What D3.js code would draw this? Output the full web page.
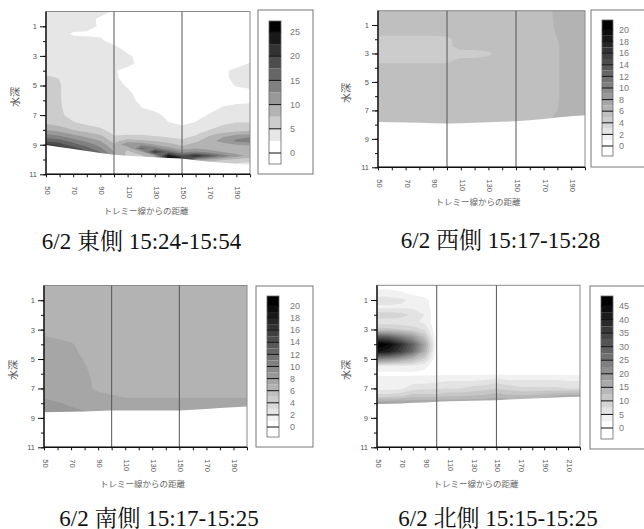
<!DOCTYPE html>
<html><head><meta charset="utf-8">
<script src="https://cdn.jsdelivr.net/npm/d3@7"></script>
<style>body{margin:0;background:#fff}svg{display:block}</style>
</head><body><svg id="c" width="644" height="529"></svg>
<script>
// ---------------- DATA ----------------
const titles = ["6/2 東側 15:24-15:54", "6/2 西側 15:17-15:28", "6/2 南側 15:17-15:25", "6/2 北側 15:15-15:25"];
const xTitle = "トレミー線からの距離";
const yTitle = "水深";
const depthTicks = [1, 2, 3, 4, 5, 6, 7, 8, 9, 10, 11];
const depthLabels = [1, 3, 5, 7, 9, 11];
const markerLines = [100, 150];

// East (東側)
const eastDist = [50, 60, 70, 80, 90, 100, 110, 120, 130, 140, 150, 160, 170, 180, 190, 200];
const eastDepth = [0, 0.5, 1, 1.5, 2, 2.5, 3, 3.5, 4, 4.5, 5, 5.5, 6, 6.5, 7, 7.5, 8, 8.25, 8.5, 8.75, 9, 9.25, 9.5, 9.75, 10, 10.25, 10.5, 11];
const eastGrid = [
  [3.5, 3.5, 3.5, 3.5, 3.5, 2.2, 1.5, 1.5, 1.5, 1.5, 1.5, 1.5, 1.5, 1.5, 1.5, 1.5],
  [3.5, 3.5, 3.5, 3.5, 2.0, 1.5, 1.5, 1.5, 1.5, 1.5, 1.5, 1.5, 1.5, 1.5, 1.5, 1.5],
  [3.5, 3.5, 3.5, 3.5, 2.1, 1.5, 1.5, 1.5, 1.5, 1.5, 1.5, 1.5, 1.5, 1.5, 1.5, 1.5],
  [3.5, 3.5, 2.2, 2.0, 2.0, 1.5, 1.5, 1.5, 1.5, 1.5, 1.5, 1.5, 1.5, 1.5, 1.5, 1.5],
  [3.5, 3.5, 3.5, 3.5, 3.0, 1.5, 1.5, 1.5, 1.5, 1.5, 1.5, 1.5, 1.5, 1.5, 1.5, 1.5],
  [3.5, 3.5, 3.5, 3.5, 3.5, 3.5, 1.5, 1.5, 1.5, 1.5, 1.5, 1.5, 1.5, 1.5, 1.5, 1.5],
  [3.5, 3.5, 3.5, 3.5, 3.5, 3.5, 3.0, 1.5, 1.5, 1.5, 1.5, 1.5, 1.5, 1.5, 1.5, 1.5],
  [3.5, 3.5, 3.5, 3.5, 3.5, 3.5, 3.5, 1.5, 1.5, 1.5, 1.5, 1.5, 1.5, 1.5, 1.5, 2.6],
  [4.0, 3.5, 3.5, 3.5, 3.5, 2.8, 1.5, 1.5, 1.5, 1.5, 1.5, 1.5, 1.5, 2.0, 3.2, 3.5],
  [5.6, 4.9, 3.5, 3.5, 3.5, 3.0, 1.5, 1.5, 1.5, 1.5, 1.5, 1.5, 1.5, 1.8, 3.3, 3.5],
  [6.0, 5.2, 3.5, 3.5, 3.5, 3.5, 2.2, 1.5, 1.5, 1.5, 1.5, 1.5, 1.5, 1.5, 2.7, 3.3],
  [6.0, 5.2, 3.5, 3.5, 3.5, 3.5, 3.0, 1.5, 1.5, 1.5, 1.5, 1.5, 1.5, 1.5, 1.5, 1.5],
  [6.2, 5.2, 3.5, 3.5, 3.5, 3.5, 3.5, 1.8, 1.5, 1.5, 1.5, 1.5, 1.5, 1.5, 1.5, 1.8],
  [6.3, 5.3, 3.8, 3.5, 3.5, 3.5, 3.5, 2.6, 1.5, 1.5, 1.5, 1.5, 1.5, 2.7, 3.5, 3.5],
  [6.5, 5.5, 4.0, 3.5, 3.5, 3.5, 3.5, 3.5, 3.5, 1.5, 1.5, 1.5, 2.7, 3.5, 4.0, 4.5],
  [6.8, 6.2, 5.2, 4.2, 3.8, 3.5, 3.5, 3.5, 3.2, 2.6, 2.0, 2.6, 3.5, 4.5, 5.0, 5.0],
  [10, 9.0, 7.5, 6.5, 5.5, 4.0, 3.8, 3.8, 3.6, 3.4, 3.3, 3.6, 5.0, 6.0, 6.5, 7.0],
  [12, 11, 9.5, 8.0, 7.0, 4.5, 4.5, 4.5, 4.2, 4.0, 3.8, 4.5, 6.5, 8.0, 9.0, 9.5],
  [14.5, 13.5, 11.5, 10, 8.5, 5.5, 6.0, 6.0, 5.5, 5.0, 4.5, 5.5, 8.0, 10, 12, 12.5],
  [17, 16, 14, 12, 10, 6.5, 9.0, 8.0, 7.5, 6.5, 5.5, 7.0, 9.0, 11, 13, 14],
  [21, 19, 16, 14, 11.5, 8.0, 12, 12, 10, 8.5, 7.0, 8.5, 8.5, 9.0, 10, 10.5],
  [21, 22, 19, 16, 13, 9.0, 8.0, 16, 14, 11, 9.0, 10, 9.0, 8.0, 8.0, 8.0],
  [21, 22, 19, 18, 15, 10, 7.0, 9.0, 21, 16, 12, 13, 12, 10, 9.0, 8.0],
  [21, 22, 19, 18, 15, 10, 7.0, 7.0, 10, 24, 18, 22, 18, 14, 11, 9.0],
  [21, 22, 19, 18, 15, 10, 7.0, 7.0, 10, 24, 26, 12, 10, 8.0, 7.0, 6.0],
  [21, 22, 19, 18, 15, 10, 7.0, 7.0, 10, 24, 26, 6.0, 6.0, 5.0, 5.0, 4.5],
  [21, 22, 19, 18, 15, 10, 7.0, 7.0, 10, 24, 26, 6.0, 6.0, 5.0, 5.0, 4.5],
  [21, 22, 19, 18, 15, 10, 7.0, 7.0, 10, 24, 26, 6.0, 6.0, 5.0, 5.0, 4.5]
];
const eastBottom = [9.02, 9.15, 9.29, 9.42, 9.56, 9.68, 9.74, 9.8, 9.85, 9.9, 9.94, 10.05, 10.15, 10.22, 10.28, 10.35];
const eastLevels = [0, 2.5, 5, 7.5, 10, 12.5, 15, 17.5, 20, 22.5, 25];
const eastLegendTicks = [0, 5, 10, 15, 20, 25];
const eastXTicks = [50, 60, 70, 80, 90, 100, 110, 120, 130, 140, 150, 160, 170, 180, 190, 200];
const eastXLabels = [50, 70, 90, 110, 130, 150, 170, 190];

// West (西側)
const westDist = [50, 60, 70, 80, 90, 100, 110, 120, 130, 140, 150, 160, 170, 180, 190, 200];
const westDepth = [0, 1, 1.5, 2, 2.5, 3, 3.5, 4, 5, 6, 7, 7.5, 8, 9, 11];
const westGrid = [
  [5.5, 5.5, 5.5, 5.5, 5.5, 5.5, 5.5, 5.5, 5.5, 5.5, 5.5, 5.5, 5.5, 6.3, 6.6, 6.6],
  [5.5, 5.5, 5.5, 5.5, 5.5, 5.5, 5.5, 5.5, 5.5, 5.5, 5.5, 5.5, 5.5, 6.2, 6.6, 6.6],
  [5.5, 5.5, 5.5, 5.5, 5.5, 5.5, 5.5, 5.5, 5.5, 5.5, 5.5, 5.5, 5.5, 6.1, 6.6, 6.6],
  [4.5, 4.5, 4.5, 4.5, 4.5, 4.7, 5.5, 5.5, 5.5, 5.5, 5.5, 5.5, 5.5, 6.0, 6.6, 6.6],
  [4.5, 4.5, 4.5, 4.5, 4.5, 4.7, 5.5, 5.5, 5.5, 5.5, 5.5, 5.5, 5.5, 5.9, 6.6, 6.6],
  [4.5, 4.5, 4.5, 4.5, 4.5, 4.5, 4.5, 4.5, 4.8, 5.5, 5.5, 5.5, 5.5, 5.9, 6.6, 6.6],
  [4.7, 4.7, 4.7, 4.7, 4.7, 4.7, 5.3, 5.3, 5.3, 5.5, 5.5, 5.5, 5.5, 5.9, 6.6, 6.6],
  [5.5, 5.5, 5.5, 5.5, 5.5, 5.5, 5.5, 5.5, 5.5, 5.5, 5.5, 5.5, 5.5, 5.9, 6.6, 6.6],
  [5.5, 5.5, 5.5, 5.5, 5.5, 5.5, 5.5, 5.5, 5.5, 5.5, 5.5, 5.5, 5.5, 5.9, 6.6, 6.6],
  [5.5, 5.5, 5.5, 5.5, 5.5, 5.5, 5.5, 5.5, 5.5, 5.5, 5.5, 5.5, 5.5, 5.9, 6.6, 6.6],
  [5.5, 5.5, 5.5, 5.5, 5.5, 5.5, 5.5, 5.5, 5.5, 5.5, 5.5, 5.5, 5.5, 6.0, 6.6, 6.6],
  [5.5, 5.5, 5.5, 5.5, 5.5, 5.5, 5.5, 5.5, 5.5, 5.5, 5.5, 5.5, 5.7, 6.2, 6.6, 6.6],
  [5.5, 5.5, 5.5, 5.5, 5.5, 5.5, 5.5, 5.5, 5.5, 5.5, 5.5, 5.5, 5.7, 6.2, 6.6, 6.6],
  [5.5, 5.5, 5.5, 5.5, 5.5, 5.5, 5.5, 5.5, 5.5, 5.5, 5.5, 5.5, 5.7, 6.2, 6.6, 6.6],
  [5.5, 5.5, 5.5, 5.5, 5.5, 5.5, 5.5, 5.5, 5.5, 5.5, 5.5, 5.5, 5.7, 6.2, 6.6, 6.6]
];
const westBottom = [7.81, 7.83, 7.85, 7.87, 7.9, 7.93, 7.9, 7.87, 7.84, 7.8, 7.77, 7.7, 7.6, 7.5, 7.42, 7.34];
const westLevels = [0, 1, 2, 3, 4, 5, 6, 7, 8, 9, 10, 11, 12, 13, 14, 15, 16, 17, 18, 19, 20];
const westLegendTicks = [0, 2, 4, 6, 8, 10, 12, 14, 16, 18, 20];
const westXTicks = [50, 60, 70, 80, 90, 100, 110, 120, 130, 140, 150, 160, 170, 180, 190, 200];
const westXLabels = [50, 70, 90, 110, 130, 150, 170, 190];

// South (南側)
const southDist = [50, 60, 70, 80, 90, 100, 110, 120, 130, 140, 150, 160, 170, 180, 190, 200];
const southDepth = [0, 1, 2, 3, 3.5, 4, 4.5, 5, 5.5, 6, 6.5, 7, 7.5, 8, 8.5, 9, 11];
const southGrid = [
  [6.4, 6.4, 6.4, 6.4, 6.4, 6.4, 6.4, 6.4, 6.4, 6.4, 6.4, 6.4, 6.4, 6.4, 6.4, 6.4],
  [6.4, 6.4, 6.4, 6.4, 6.4, 6.4, 6.4, 6.4, 6.4, 6.4, 6.4, 6.4, 6.4, 6.4, 6.4, 6.4],
  [6.4, 6.4, 6.4, 6.4, 6.4, 6.4, 6.4, 6.4, 6.4, 6.4, 6.4, 6.4, 6.4, 6.4, 6.4, 6.4],
  [6.4, 6.4, 6.4, 6.4, 6.4, 6.4, 6.4, 6.4, 6.4, 6.4, 6.4, 6.4, 6.4, 6.4, 6.4, 6.4],
  [7.1, 6.8, 6.4, 6.4, 6.4, 6.4, 6.4, 6.4, 6.4, 6.4, 6.4, 6.4, 6.4, 6.4, 6.4, 6.4],
  [7.6, 7.6, 7.2, 6.4, 6.4, 6.4, 6.4, 6.4, 6.4, 6.4, 6.4, 6.4, 6.4, 6.4, 6.4, 6.4],
  [7.6, 7.6, 7.6, 6.4, 6.4, 6.4, 6.4, 6.4, 6.4, 6.4, 6.4, 6.4, 6.4, 6.4, 6.4, 6.4],
  [7.6, 7.6, 7.6, 6.9, 6.4, 6.4, 6.4, 6.4, 6.4, 6.4, 6.4, 6.4, 6.4, 6.4, 6.4, 6.4],
  [7.6, 7.6, 7.6, 7.1, 6.4, 6.4, 6.4, 6.4, 6.4, 6.4, 6.4, 6.4, 6.4, 6.4, 6.4, 6.4],
  [7.6, 7.6, 7.6, 7.3, 6.4, 6.4, 6.4, 6.4, 6.4, 6.4, 6.4, 6.4, 6.4, 6.4, 6.4, 6.4],
  [7.6, 7.6, 7.6, 7.6, 6.4, 6.4, 6.4, 6.4, 6.4, 6.4, 6.4, 6.4, 6.4, 6.4, 6.4, 6.4],
  [7.6, 7.6, 7.6, 7.6, 6.5, 6.4, 6.4, 6.4, 6.4, 6.4, 6.4, 6.4, 6.4, 6.4, 6.4, 6.4],
  [7.8, 7.6, 7.6, 7.6, 7.6, 7.1, 6.8, 6.8, 6.8, 6.8, 6.8, 6.8, 6.8, 6.8, 6.8, 6.8],
  [8.3, 8.1, 7.8, 7.6, 7.6, 7.6, 7.6, 7.6, 7.6, 7.6, 7.6, 7.6, 7.6, 7.6, 7.6, 7.6],
  [8.6, 8.5, 8.2, 8.0, 7.8, 7.6, 7.6, 7.6, 7.6, 7.6, 7.6, 7.6, 7.6, 7.6, 7.6, 7.6],
  [8.6, 8.5, 8.2, 8.0, 7.8, 7.6, 7.6, 7.6, 7.6, 7.6, 7.6, 7.6, 7.6, 7.6, 7.6, 7.6],
  [8.6, 8.5, 8.2, 8.0, 7.8, 7.6, 7.6, 7.6, 7.6, 7.6, 7.6, 7.6, 7.6, 7.6, 7.6, 7.6]
];
const southBottom = [8.61, 8.6, 8.58, 8.56, 8.53, 8.5, 8.5, 8.5, 8.5, 8.5, 8.5, 8.45, 8.4, 8.33, 8.28, 8.23];
const southLevels = [0, 1, 2, 3, 4, 5, 6, 7, 8, 9, 10, 11, 12, 13, 14, 15, 16, 17, 18, 19, 20];
const southLegendTicks = [0, 2, 4, 6, 8, 10, 12, 14, 16, 18, 20];
const southXTicks = [50, 60, 70, 80, 90, 100, 110, 120, 130, 140, 150, 160, 170, 180, 190, 200];
const southXLabels = [50, 70, 90, 110, 130, 150, 170, 190];

// North (北側)
const northDist = [50, 60, 70, 80, 90, 100, 110, 120, 130, 140, 150, 160, 170, 180, 190, 200, 210, 220];
const northDepth = [0, 0.5, 1, 1.5, 2, 2.5, 3, 3.5, 4, 4.5, 5, 5.5, 6, 6.5, 7, 7.5, 8, 9, 11];
const northGrid = [
  [1, 1, 0.5, 0, 0, 0, 0, 0, 0, 0, 0, 0, 0, 0, 0, 0, 0, 0],
  [4, 3.5, 3, 1.5, 0.5, 0, 0, 0, 0, 0, 0, 0, 0, 0, 0, 0, 0, 0],
  [6, 6, 5.5, 4.5, 3.5, 0.5, 0, 0, 0, 0, 0, 0, 0, 0, 0, 0, 0, 0],
  [4.5, 4.5, 4.5, 4.5, 4, 0.5, 0, 0, 0, 0, 0, 0, 0, 0, 0, 0, 0, 0],
  [9, 9, 8.5, 7, 5, 0.5, 0, 0, 0, 0, 0, 0, 0, 0, 0, 0, 0, 0],
  [6, 6, 6, 5.5, 4.5, 0.5, 0, 0, 0, 0, 0, 0, 0, 0, 0, 0, 0, 0],
  [11, 11, 10, 9, 7, 0.5, 0, 0, 0, 0, 0, 0, 0, 0, 0, 0, 0, 0],
  [31, 29, 24, 19, 12, 0.5, 0, 0, 0, 0, 0, 0, 0, 0, 0, 0, 0, 0],
  [48, 45, 38, 29, 17, 0.5, 0, 0, 0, 0, 0, 0, 0, 0, 0, 0, 0, 0],
  [43, 41, 35, 27, 15, 0.5, 0, 0, 0, 0, 0, 0, 0, 0, 0, 0, 0, 0],
  [23, 21, 18, 14, 9, 0.5, 0, 0, 0, 0, 0, 0, 0, 0, 0, 0, 0, 0],
  [4, 4, 4, 4, 3, 1, 0.5, 0.5, 0.5, 0.5, 0.5, 0.5, 0.5, 0.5, 0.5, 0.5, 0.5, 0.5],
  [2, 2, 2, 2, 2, 2, 2, 2, 2, 2, 2, 2, 2, 2, 2, 2, 2, 2],
  [3.5, 3.5, 3.5, 4, 4, 4.5, 5, 5, 5, 5.5, 6.5, 5.5, 5.5, 5.5, 5.5, 5.5, 5, 5],
  [4, 4, 4.5, 6.5, 7, 7, 7.5, 7.5, 8.5, 9, 10, 9, 8, 8, 8, 8, 7.5, 7.5],
  [8.5, 8.5, 9.5, 11, 11, 11, 12, 12, 12.5, 13, 14, 13, 13, 13, 14, 15, 16, 16],
  [18, 18, 18, 18, 18, 18, 18, 18, 18, 18, 18, 18, 18, 18, 18, 18, 18, 18],
  [18, 18, 18, 18, 18, 18, 18, 18, 18, 18, 18, 18, 18, 18, 18, 18, 18, 18],
  [18, 18, 18, 18, 18, 18, 18, 18, 18, 18, 18, 18, 18, 18, 18, 18, 18, 18]
];
const northBottom = [8.06, 8.04, 8.02, 7.98, 7.95, 7.9, 7.88, 7.86, 7.84, 7.82, 7.8, 7.76, 7.72, 7.68, 7.65, 7.62, 7.59, 7.56];
const northLevels = [0, 2.5, 5, 7.5, 10, 12.5, 15, 17.5, 20, 22.5, 25, 27.5, 30, 32.5, 35, 37.5, 40, 42.5, 45];
const northLegendTicks = [0, 5, 10, 15, 20, 25, 30, 35, 40, 45];
const northXTicks = [50, 60, 70, 80, 90, 100, 110, 120, 130, 140, 150, 160, 170, 180, 190, 200, 210, 220];
const northXLabels = [50, 70, 90, 110, 130, 150, 170, 190, 210];

// ---------------- LAYOUT ----------------
const panels = [
  {dist: eastDist, depth: eastDepth, grid: eastGrid, bottom: eastBottom, levels: eastLevels, lticks: eastLegendTicks, xticks: eastXTicks, xlabels: eastXLabels, title: titles[0],
   L: 46, R: 250, T: 11.5, B: 174.3,
   lg: {x0: 258, x1: 313, y0: 10, y1: 174, bx: 269, bw: 12, bt: 21, bb: 164, vTop: 25, yTop: 32, y0v: 153, lx: 290},
   tt: [141.5, 249], xl: [146, 214], yl: [15, 97]},
  {dist: westDist, depth: westDepth, grid: westGrid, bottom: westBottom, levels: westLevels, lticks: westLegendTicks, xticks: westXTicks, xlabels: westXLabels, title: titles[1],
   L: 378, R: 585, T: 10.8, B: 167.3,
   lg: {x0: 591, x1: 660, y0: 10, y1: 167, bx: 602, bw: 11, bt: 20, bb: 156, vTop: 20, yTop: 30, y0v: 146, lx: 619},
   tt: [500.5, 248], xl: [478, 205], yl: [346, 93]},
  {dist: southDist, depth: southDepth, grid: southGrid, bottom: southBottom, levels: southLevels, lticks: southLegendTicks, xticks: southXTicks, xlabels: southXLabels, title: titles[2],
   L: 44, R: 247, T: 285.5, B: 447.3,
   lg: {x0: 256, x1: 313, y0: 286, y1: 447, bx: 267, bw: 12, bt: 296, bb: 437, vTop: 20, yTop: 306, y0v: 427, lx: 290},
   tt: [159, 525.5], xl: [142.5, 487], yl: [13, 370]},
  {dist: northDist, depth: northDepth, grid: northGrid, bottom: northBottom, levels: northLevels, lticks: northLegendTicks, xticks: northXTicks, xlabels: northXLabels, title: titles[3],
   L: 377, R: 580, T: 285.3, B: 447.3,
   lg: {x0: 590, x1: 660, y0: 286, y1: 449, bx: 601, bw: 12, bt: 296, bb: 439, vTop: 45, yTop: 306, y0v: 428, lx: 619},
   tt: [498, 525.5], xl: [476, 487], yl: [346, 370]}
];

const svg = d3.select("#c");
const sans = "'Liberation Sans', Arial, sans-serif";
const cjk = "'Noto Sans CJK JP', sans-serif";

panels.forEach(p => {
  const g = svg.append("g");
  const nb = p.levels.length - 1;
  const gray = k => { const v = Math.round(255 * (1 - k / nb)); return `rgb(${v},${v},${v})`; };
  const xmin = p.dist[0], xmax = p.dist[p.dist.length - 1];
  const x = d3.scaleLinear().domain([xmin, xmax]).range([p.L, p.R]);
  const y = d3.scaleLinear().domain([0, 11]).range([p.T, p.B]);
  const xi = d3.scaleLinear().domain(d3.range(p.dist.length)).range(p.dist).clamp(true);
  const yi = d3.scaleLinear().domain(d3.range(p.depth.length)).range(p.depth).clamp(true);
  const path = d3.geoPath(d3.geoTransform({
    point(px, py) { this.stream.point(x(xi(px - 0.5)), y(yi(py - 0.5))); }
  }));
  const nx = p.dist.length, ny = p.depth.length;
  const values = p.grid.flat();
  const conts = d3.contours().size([nx, ny]).thresholds(p.levels.slice(1))(values);

  g.append("rect").attr("x", p.L).attr("y", p.T).attr("width", p.R - p.L).attr("height", p.B - p.T).attr("fill", "#fff");
  conts.forEach((c, i) => {
    g.append("path").attr("d", path(c)).attr("fill", gray(i + 1)).attr("stroke", "none");
  });
  // seabed mask (no data below bottom)
  const maskPts = p.dist.map((d, i) => [x(d), y(p.bottom[i])]).concat([[x(xmax), y(11)], [x(xmin), y(11)]]);
  g.append("path").attr("d", d3.line()(maskPts) + "Z").attr("fill", "#fff");

  // frame
  g.append("rect").attr("x", p.L).attr("y", p.T).attr("width", p.R - p.L).attr("height", p.B - p.T)
    .attr("fill", "none").attr("stroke", "#8a8a8a").attr("stroke-width", 1);
  // marker lines
  markerLines.forEach(m => {
    g.append("line").attr("x1", x(m)).attr("x2", x(m)).attr("y1", p.T).attr("y2", p.B)
      .attr("stroke", "#555").attr("stroke-width", 1);
  });

  // y axis
  const ya1 = g.append("g").attr("transform", `translate(${p.L},0)`)
    .call(d3.axisLeft(y).tickValues(depthTicks).tickSize(3).tickFormat(""));
  const ya2 = g.append("g").attr("transform", `translate(${p.L},0)`)
    .call(d3.axisLeft(y).tickValues(depthLabels).tickSize(6).tickPadding(3).tickFormat(d3.format("d")));
  [ya1, ya2].forEach(a => { a.select(".domain").remove(); a.selectAll("line").attr("stroke", "#111"); });
  ya2.selectAll("text").attr("font-family", sans).attr("font-size", 7.5).attr("fill", "#555");

  // x axis
  const xa = g.append("g").attr("transform", `translate(0,${p.B})`)
    .call(d3.axisBottom(x).tickValues(p.xticks).tickSize(3).tickFormat(d => p.xlabels.includes(d) ? d : ""));
  xa.select(".domain").remove();
  xa.selectAll("line").attr("stroke", "#111");
  xa.selectAll("text").attr("font-family", sans).attr("font-size", 7.5).attr("fill", "#555")
    .attr("transform", "rotate(90)").attr("x", 12).attr("y", 1.5).attr("dy", "0em").style("text-anchor", "start");
  // axis lines
  g.append("line").attr("x1", p.L).attr("x2", p.L).attr("y1", p.T).attr("y2", p.B + 0.5).attr("stroke", "#111").attr("stroke-width", 1.4);
  g.append("line").attr("x1", p.L).attr("x2", p.R).attr("y1", p.B).attr("y2", p.B).attr("stroke", "#111").attr("stroke-width", 1.4);

  // axis titles
  g.append("text").attr("x", p.xl[0]).attr("y", p.xl[1]).attr("text-anchor", "middle")
    .attr("font-family", cjk).attr("font-size", 8.5).attr("fill", "#666").text(xTitle);
  g.append("text").attr("transform", `translate(${p.yl[0]},${p.yl[1]}) rotate(-90)`).attr("text-anchor", "middle")
    .attr("dy", "0.35em").attr("font-family", cjk).attr("font-size", 10).attr("fill", "#555").text(yTitle);

  // legend
  const lg = p.lg;
  g.append("rect").attr("x", lg.x0).attr("y", lg.y0).attr("width", lg.x1 - lg.x0).attr("height", lg.y1 - lg.y0)
    .attr("fill", "#fff").attr("stroke", "#777").attr("stroke-width", 1);
  const ly = d3.scaleLinear().domain([0, lg.vTop]).range([lg.y0v, lg.yTop]);
  g.append("rect").attr("x", lg.bx).attr("y", ly(0)).attr("width", lg.bw).attr("height", lg.bb - ly(0)).attr("fill", "#fff");
  p.levels.forEach((lv, k) => {
    const top = k < nb ? ly(p.levels[k + 1]) : lg.bt;
    g.append("rect").attr("x", lg.bx).attr("y", top).attr("width", lg.bw).attr("height", ly(lv) - top).attr("fill", gray(k));
  });
  g.append("rect").attr("x", lg.bx).attr("y", lg.bt).attr("width", lg.bw).attr("height", lg.bb - lg.bt)
    .attr("fill", "none").attr("stroke", "#666").attr("stroke-width", 0.8);
  p.lticks.forEach(t => {
    g.append("line").attr("x1", lg.bx).attr("x2", lg.bx + lg.bw).attr("y1", ly(t)).attr("y2", ly(t))
      .attr("stroke", "#111").attr("stroke-width", 1);
    g.append("text").attr("x", lg.lx).attr("y", ly(t)).attr("dy", "0.35em")
      .attr("font-family", sans).attr("font-size", 9).attr("fill", "#777").text(t);
  });

  // title
  g.append("text").attr("x", p.tt[0]).attr("y", p.tt[1]).attr("text-anchor", "middle")
    .attr("font-family", "'Liberation Serif', 'Noto Serif CJK JP', 'Noto Sans CJK JP', serif").attr("font-size", 23).attr("fill", "#111").text(p.title);
});
</script></body></html>
